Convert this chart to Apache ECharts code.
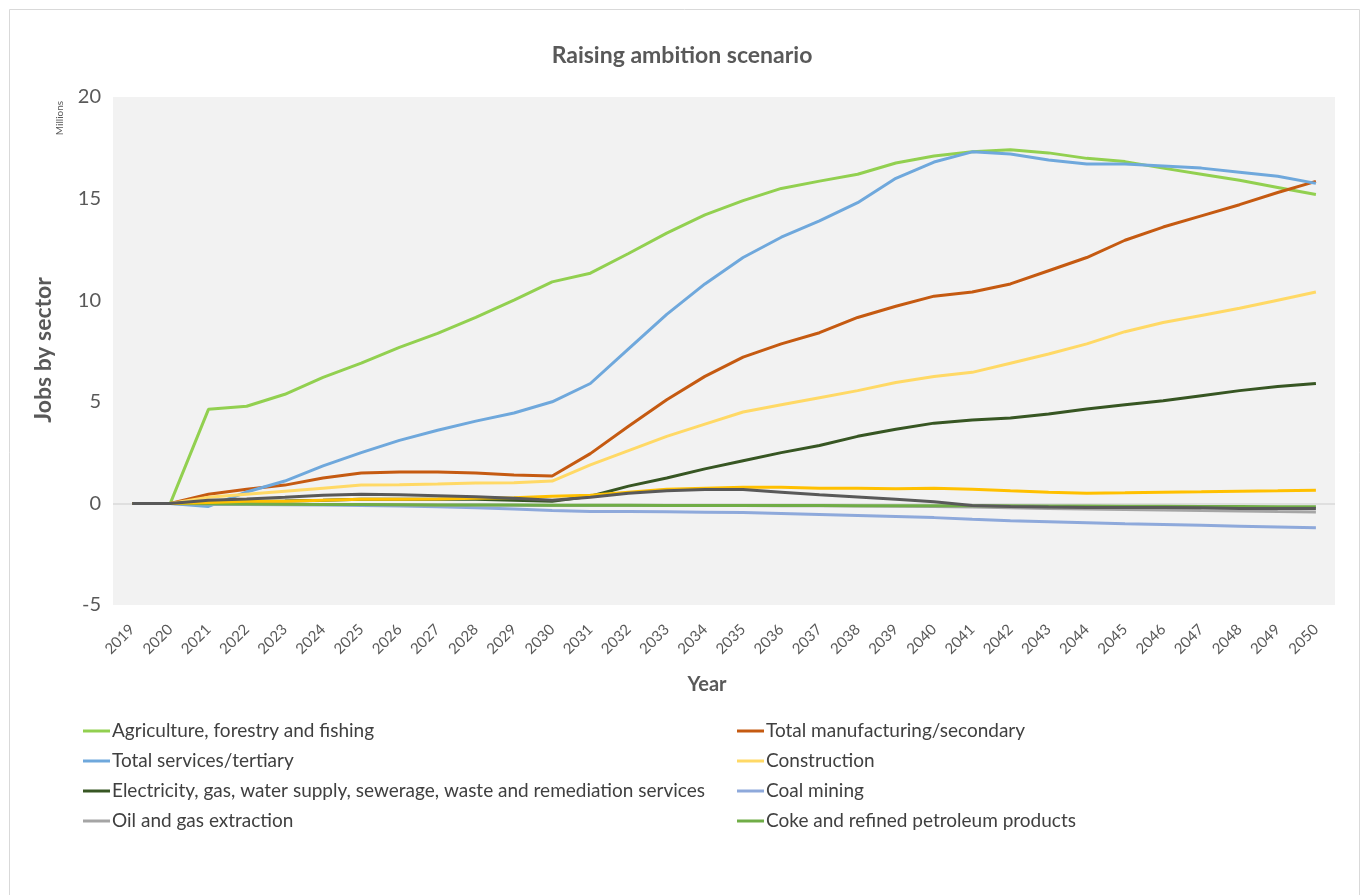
<!DOCTYPE html>
<html>
<head>
<meta charset="utf-8">
<script src="https://cdn.jsdelivr.net/npm/echarts@6/dist/echarts.min.js"></script>
<style>
html,body{margin:0;padding:0;background:#fff;}
#chart{width:1364px;height:895px;}
</style>
</head>
<body>
<div id="chart"></div>
<script>
const years = ['2019','2020','2021','2022','2023','2024','2025','2026','2027','2028','2029','2030','2031','2032','2033','2034','2035','2036','2037','2038','2039','2040','2041','2042','2043','2044','2045','2046','2047','2048','2049','2050'];
const yTicks = [-5, 0, 5, 10, 15, 20];

const agriculture = [0,0,4.63,4.78,5.37,6.2,6.9,7.68,8.37,9.16,10.0,10.9,11.33,12.3,13.3,14.2,14.9,15.5,15.86,16.2,16.75,17.1,17.3,17.4,17.25,16.98,16.82,16.5,16.2,15.9,15.55,15.2];
const manufacturing = [0,0,0.45,0.7,0.9,1.25,1.5,1.55,1.55,1.5,1.4,1.35,2.45,3.8,5.1,6.25,7.2,7.85,8.4,9.15,9.7,10.2,10.4,10.8,11.45,12.1,12.95,13.6,14.15,14.7,15.3,15.85];
const services = [0,0,-0.15,0.56,1.1,1.85,2.5,3.1,3.6,4.05,4.45,5.0,5.9,7.6,9.3,10.8,12.1,13.1,13.9,14.8,16.0,16.8,17.3,17.2,16.9,16.7,16.7,16.6,16.5,16.3,16.1,15.75];
const construction = [0,0,0.3,0.45,0.6,0.75,0.9,0.92,0.95,1.0,1.02,1.1,1.9,2.6,3.3,3.9,4.5,4.85,5.2,5.55,5.95,6.25,6.45,6.9,7.35,7.85,8.45,8.9,9.25,9.6,10.0,10.4];
const electricity = [0,0,0.05,0.1,0.12,0.15,0.2,0.2,0.2,0.2,0.15,0.1,0.35,0.85,1.25,1.7,2.1,2.5,2.85,3.3,3.65,3.95,4.1,4.2,4.4,4.65,4.85,5.05,5.3,5.55,5.75,5.9];
const coalMining = [0,0,-0.05,-0.05,-0.07,-0.08,-0.1,-0.13,-0.17,-0.22,-0.28,-0.35,-0.4,-0.4,-0.41,-0.43,-0.45,-0.5,-0.55,-0.6,-0.65,-0.7,-0.78,-0.85,-0.9,-0.95,-1.0,-1.04,-1.08,-1.12,-1.16,-1.2];
const oilGas = [0,0,-0.02,-0.03,-0.04,-0.05,-0.06,-0.07,-0.08,-0.08,-0.09,-0.1,-0.1,-0.1,-0.1,-0.1,-0.1,-0.11,-0.12,-0.13,-0.14,-0.15,-0.18,-0.22,-0.25,-0.28,-0.3,-0.32,-0.35,-0.37,-0.4,-0.42];
const coke = [0,0,-0.02,-0.03,-0.04,-0.05,-0.06,-0.07,-0.08,-0.08,-0.08,-0.09,-0.09,-0.09,-0.1,-0.1,-0.1,-0.1,-0.1,-0.11,-0.11,-0.11,-0.12,-0.12,-0.13,-0.13,-0.14,-0.14,-0.15,-0.15,-0.16,-0.16];
const unlabeledGold = [0,0,0.05,0.1,0.1,0.15,0.2,0.2,0.22,0.25,0.28,0.35,0.4,0.55,0.7,0.75,0.8,0.8,0.75,0.75,0.72,0.75,0.7,0.62,0.55,0.5,0.52,0.55,0.57,0.6,0.62,0.65];
const unlabeledGray = [0,0,0.15,0.22,0.3,0.4,0.45,0.42,0.38,0.33,0.25,0.15,0.3,0.5,0.62,0.68,0.68,0.55,0.42,0.32,0.2,0.08,-0.1,-0.15,-0.18,-0.2,-0.2,-0.2,-0.22,-0.25,-0.25,-0.25];

const names = {
  agri: 'Agriculture, forestry and fishing',
  manu: 'Total manufacturing/secondary',
  serv: 'Total services/tertiary',
  cons: 'Construction',
  elec: 'Electricity, gas, water supply, sewerage, waste and remediation services',
  coal: 'Coal mining',
  oil: 'Oil and gas extraction',
  coke: 'Coke and refined petroleum products'
};

const FONT = 'Lato, "Open Sans", sans-serif';
const chart = echarts.init(document.getElementById('chart'));

function line(name, data, color, z) {
  return {
    name: name, type: 'line', data: data, symbol: 'none', smooth: false,
    lineStyle: { color: color, width: 3 }, itemStyle: { color: color }, z: z || 2
  };
}

const series = [
  line(names.agri, agriculture, '#92D050', 3),
  line(names.manu, manufacturing, '#C55A11', 3),
  line(names.serv, services, '#6FA8DC', 3),
  line(names.cons, construction, '#FFD966', 3),
  line(names.elec, electricity, '#375623', 3),
  line(names.coal, coalMining, '#8EA9DB', 3),
  line(names.oil, oilGas, '#A5A5A5', 3),
  line(names.coke, coke, '#70AD47', 3),
  line('Series 9', unlabeledGold, '#FFC000', 4),
  line('Series 10', unlabeledGray, '#595959', 5)
];
series[0].markLine = {
  silent: true, symbol: 'none', label: { show: false },
  lineStyle: { color: '#D9D9D9', width: 1.5, type: 'solid' },
  data: [{ yAxis: 0 }], z: 1
};

const legendCommon = {
  orient: 'vertical', icon: 'rect', itemWidth: 27, itemHeight: 3, itemGap: 10, padding: 0,
  textStyle: { fontFamily: FONT, fontSize: 19, lineHeight: 20, color: '#404040', padding: [0, 0, 0, -3] },
  selectedMode: false
};

chart.setOption({
  backgroundColor: '#ffffff',
  animation: false,
  title: {
    text: 'Raising ambition scenario', left: 'center', top: 39,
    textStyle: { fontFamily: FONT, fontSize: 23, fontWeight: 'bold', color: '#595959' }
  },
  grid: { left: 113, right: 29, top: 97, bottom: 290, show: true, backgroundColor: '#F2F2F2', borderWidth: 0 },
  legend: [
    Object.assign({}, legendCommon, { left: 83, top: 721, data: [names.agri, names.serv, names.elec, names.oil] }),
    Object.assign({}, legendCommon, { left: 737, top: 721, data: [names.manu, names.cons, names.coal, names.coke] })
  ],
  xAxis: {
    type: 'category', data: years, boundaryGap: true,
    axisLine: { show: false }, axisTick: { show: false },
    axisLabel: { rotate: 45, fontFamily: FONT, fontSize: 15, color: '#595959', margin: 22 }
  },
  yAxis: {
    type: 'value', min: yTicks[0], max: yTicks[yTicks.length - 1], interval: 5,
    axisLine: { show: false }, axisTick: { show: false }, splitLine: { show: false },
    axisLabel: { fontFamily: FONT, fontSize: 20, color: '#595959', margin: 12 }
  },
  graphic: [
    { type: 'rect', left: 7, top: 7, shape: { width: 1350, height: 900 }, style: { fill: 'none', stroke: '#D9D9D9', lineWidth: 1 }, z: -1 },
    { type: 'text', x: 44, y: 350, rotation: Math.PI / 2, style: { text: 'Jobs by sector', fontFamily: FONT, fontSize: 23, fontWeight: 'bold', fill: '#595959', align: 'center', verticalAlign: 'middle' } },
    { type: 'text', x: 60, y: 118, rotation: Math.PI / 2, style: { text: 'Millions', fontFamily: FONT, fontSize: 10, fill: '#595959', align: 'center', verticalAlign: 'middle' } },
    { type: 'text', x: 707, y: 685, style: { text: 'Year', fontFamily: FONT, fontSize: 20, fontWeight: 'bold', fill: '#595959', align: 'center', verticalAlign: 'middle' } }
  ],
  series: series
});
</script>
</body>
</html>
